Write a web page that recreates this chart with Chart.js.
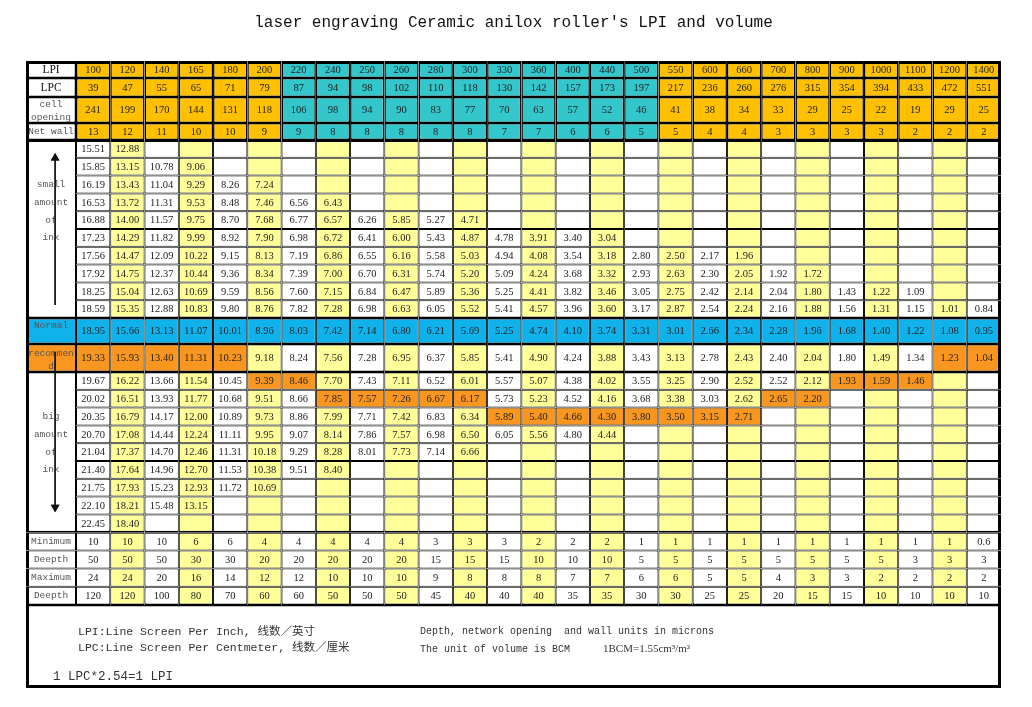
<!DOCTYPE html>
<html>
<head>
<meta charset="utf-8">
<title>laser engraving Ceramic anilox roller's LPI and volume</title>
<script src="https://cdn.jsdelivr.net/npm/chart.js@4.4.1/dist/chart.umd.min.js"></script>
<style>
  html, body { margin: 0; padding: 0; background: #fff; }
  canvas { display: block; }
</style>
</head>
<body>
<canvas id="aniloxChart" width="1032" height="707"></canvas>
<script>
// header rows, one value per LPI column
var lpi = [100, 120, 140, 165, 180, 200, 220, 240, 250, 260, 280, 300, 330, 360, 400, 440, 500, 550, 600, 660, 700, 800, 900, 1000, 1100, 1200, 1400];
var lpc = [39, 47, 55, 65, 71, 79, 87, 94, 98, 102, 110, 118, 130, 142, 157, 173, 197, 217, 236, 260, 276, 315, 354, 394, 433, 472, 551];
var cellOpening = [241, 199, 170, 144, 131, 118, 106, 98, 94, 90, 83, 77, 70, 63, 57, 52, 46, 41, 38, 34, 33, 29, 25, 22, 19, 29, 25];
var netWall = [13, 12, 11, 10, 10, 9, 9, 8, 8, 8, 8, 8, 7, 7, 6, 6, 5, 5, 4, 4, 3, 3, 3, 3, 2, 2, 2];

// volume (BCM) rows, small amount of ink
var smallInk = [
    [15.51, 12.88],
    [15.85, 13.15, 10.78, 9.06],
    [16.19, 13.43, 11.04, 9.29, 8.26, 7.24],
    [16.53, 13.72, 11.31, 9.53, 8.48, 7.46, 6.56, 6.43],
    [16.88, 14.00, 11.57, 9.75, 8.70, 7.68, 6.77, 6.57, 6.26, 5.85, 5.27, 4.71],
    [17.23, 14.29, 11.82, 9.99, 8.92, 7.90, 6.98, 6.72, 6.41, 6.00, 5.43, 4.87, 4.78, 3.91, 3.40, 3.04],
    [17.56, 14.47, 12.09, 10.22, 9.15, 8.13, 7.19, 6.86, 6.55, 6.16, 5.58, 5.03, 4.94, 4.08, 3.54, 3.18, 2.80, 2.50, 2.17, 1.96],
    [17.92, 14.75, 12.37, 10.44, 9.36, 8.34, 7.39, 7.00, 6.70, 6.31, 5.74, 5.20, 5.09, 4.24, 3.68, 3.32, 2.93, 2.63, 2.30, 2.05, 1.92, 1.72],
    [18.25, 15.04, 12.63, 10.69, 9.59, 8.56, 7.60, 7.15, 6.84, 6.47, 5.89, 5.36, 5.25, 4.41, 3.82, 3.46, 3.05, 2.75, 2.42, 2.14, 2.04, 1.80, 1.43, 1.22, 1.09],
    [18.59, 15.35, 12.88, 10.83, 9.80, 8.76, 7.82, 7.28, 6.98, 6.63, 6.05, 5.52, 5.41, 4.57, 3.96, 3.60, 3.17, 2.87, 2.54, 2.24, 2.16, 1.88, 1.56, 1.31, 1.15, 1.01, 0.84]
];
var normalInk = [18.95, 15.66, 13.13, 11.07, 10.01, 8.96, 8.03, 7.42, 7.14, 6.80, 6.21, 5.69, 5.25, 4.74, 4.10, 3.74, 3.31, 3.01, 2.66, 2.34, 2.28, 1.96, 1.68, 1.40, 1.22, 1.08, 0.95];
var recommendInk = [19.33, 15.93, 13.40, 11.31, 10.23, 9.18, 8.24, 7.56, 7.28, 6.95, 6.37, 5.85, 5.41, 4.90, 4.24, 3.88, 3.43, 3.13, 2.78, 2.43, 2.40, 2.04, 1.80, 1.49, 1.34, 1.23, 1.04];
// big amount of ink
var bigInk = [
    [19.67, 16.22, 13.66, 11.54, 10.45, 9.39, 8.46, 7.70, 7.43, 7.11, 6.52, 6.01, 5.57, 5.07, 4.38, 4.02, 3.55, 3.25, 2.90, 2.52, 2.52, 2.12, 1.93, 1.59, 1.46],
    [20.02, 16.51, 13.93, 11.77, 10.68, 9.51, 8.66, 7.85, 7.57, 7.26, 6.67, 6.17, 5.73, 5.23, 4.52, 4.16, 3.68, 3.38, 3.03, 2.62, 2.65, 2.20],
    [20.35, 16.79, 14.17, 12.00, 10.89, 9.73, 8.86, 7.99, 7.71, 7.42, 6.83, 6.34, 5.89, 5.40, 4.66, 4.30, 3.80, 3.50, 3.15, 2.71],
    [20.70, 17.08, 14.44, 12.24, 11.11, 9.95, 9.07, 8.14, 7.86, 7.57, 6.98, 6.50, 6.05, 5.56, 4.80, 4.44],
    [21.04, 17.37, 14.70, 12.46, 11.31, 10.18, 9.29, 8.28, 8.01, 7.73, 7.14, 6.66],
    [21.40, 17.64, 14.96, 12.70, 11.53, 10.38, 9.51, 8.40],
    [21.75, 17.93, 15.23, 12.93, 11.72, 10.69],
    [22.10, 18.21, 15.48, 13.15],
    [22.45, 18.40]
];

// depth rows (microns)
var minimumOpen = [10, 10, 10, 6, 6, 4, 4, 4, 4, 4, 3, 3, 3, 2, 2, 2, 1, 1, 1, 1, 1, 1, 1, 1, 1, 1, 0.6];
var minimumDepth = [50, 50, 50, 30, 30, 20, 20, 20, 20, 20, 15, 15, 15, 10, 10, 10, 5, 5, 5, 5, 5, 5, 5, 5, 3, 3, 3];
var maximumOpen = [24, 24, 20, 16, 14, 12, 12, 10, 10, 10, 9, 8, 8, 8, 7, 7, 6, 6, 5, 5, 4, 3, 3, 2, 2, 2, 2];
var maximumDepth = [120, 120, 100, 80, 70, 60, 60, 50, 50, 50, 45, 40, 40, 40, 35, 35, 30, 30, 25, 25, 20, 15, 15, 10, 10, 10, 10];

// orange (recommended) cells, by column index
var recommendHot = [0, 1, 2, 3, 4, 25, 26];
var bigHot = [[5, 6, 22, 23, 24], [7, 8, 9, 10, 11, 20, 21], [12, 13, 14, 15, 16, 17, 18, 19]];

var orange = '#FFC000';
var teal = '#33C6CB';
var paleYellow = '#FFFF99';
var blue = '#10B2EC';
var hotOrange = '#F8961F';
var NUM_FONT = '10.5px "Liberation Serif", "Times New Roman", serif';
var MONO = '9.5px "Liberation Mono", monospace';
var SERIF_LABEL = '11.5px "Liberation Serif", serif';

var LABEL_W = 1.46;              // label column, in LPI-column units
var XMAX = LABEL_W + lpi.length;

// table rows top to bottom (heights in px)
var rows = [];
var yPos = 0;
function addRow(kind, values, h, bt, bb, hot, decimals) {
    rows.push({ kind: kind, values: values, y0: yPos, y1: yPos + h, bt: bt, bb: bb, hot: hot || [], decimals: decimals });
    yPos += h;
    return rows.length - 1;
}
var rLpi = addRow('head', lpi, 17, 3, 1.5);
var rLpc = addRow('head', lpc, 19, 1.5, 1.5);
var rCell = addRow('head', cellOpening, 26, 1.5, 1.5);
var rWall = addRow('head', netWall, 17, 1.5, 1.5);
var rSmall = smallInk.map(function (v, k) {
    return addRow('body', v, 17.8, k === 0 ? 2 : 1, k === smallInk.length - 1 ? 1.5 : 1, [], 2);
});
var rNormal = addRow('normal', normalInk, 26, 1.5, 1.5, [], 2);
var rRecommend = addRow('body', recommendInk, 28, 1.5, 1.5, recommendHot, 2);
var rBig = bigInk.map(function (v, k) {
    return addRow('body', v, 17.8, k === 0 ? 1.5 : 1, k === bigInk.length - 1 ? 1.5 : 1, bigHot[k], 2);
});
var rMin = addRow('body', minimumOpen, 18.2, 1.5, 1);
var rMinD = addRow('body', minimumDepth, 18.2, 1, 1);
var rMax = addRow('body', maximumOpen, 18.2, 1, 1);
var rMaxD = addRow('body', maximumDepth, 18.2, 1, 1.5);
var tableBottom = yPos;
var footerBottom = tableBottom + 83;

function mid(r) { return (rows[r].y0 + rows[r].y1) / 2; }
function side(r) { return rows[r].kind === 'head' ? 1.5 : 1; }

function cellColor(r, i) {
    if (r.kind === 'head') return (lpi[i] >= 220 && lpi[i] <= 500) ? teal : orange;
    if (r.kind === 'normal') return blue;
    if (r.hot.indexOf(i) >= 0) return hotOrange;
    return i % 2 === 1 ? paleYellow : '#FFFFFF';
}

var barCommon = {
    type: 'bar',
    borderColor: '#000',
    borderSkipped: false,
    inflateAmount: 0,
    grouped: false,
    categoryPercentage: 1
};

var datasets = [];

// arrows in the label column (drawn on top)
datasets.push({
    type: 'line', xAxisID: 'xl', order: -1,
    data: [{ x: 0.85, y: mid(rSmall[9]) - 4 }, { x: 0.85, y: rows[rSmall[0]].y0 + 18 }],
    borderColor: '#111', borderWidth: 1.3,
    pointStyle: 'triangle', pointRadius: [0, 5], pointBackgroundColor: '#111', pointBorderColor: '#111', pointBorderWidth: 0
});
datasets.push({
    type: 'line', xAxisID: 'xl', order: -1,
    data: [{ x: 0.85, y: rows[rRecommend].y0 + 8 }, { x: 0.85, y: rows[rBig[8]].y1 - 25 }],
    borderColor: '#111', borderWidth: 1.3,
    pointStyle: 'triangle', pointRotation: 180, pointRadius: [0, 5], pointBackgroundColor: '#111', pointBorderColor: '#111', pointBorderWidth: 0
});

// value cells, one dataset per table row
rows.forEach(function (r, ri) {
    datasets.push(Object.assign({}, barCommon, {
        xAxisID: 'x',
        barPercentage: 1,
        data: lpi.map(function (_, i) { return { x: LABEL_W + i + 0.5, y: [r.y0, r.y1] }; }),
        backgroundColor: lpi.map(function (_, i) { return cellColor(r, i); }),
        borderWidth: function (c) {
            var s = side(ri);
            return { top: r.bt, bottom: r.bb, left: s, right: c.dataIndex === lpi.length - 1 ? 3 : s };
        },
        cellText: lpi.map(function (_, i) {
            var v = r.values[i];
            if (v === undefined) return '';
            return r.decimals ? v.toFixed(r.decimals) : String(v);
        })
    }));
});

// label column
function ln(text, y, font) { return { text: text, y: y, font: font || MONO, color: '#555' }; }
var labelCells = [
    { r0: rLpi, r1: rLpi, lines: [{ text: 'LPI', y: mid(rLpi), font: SERIF_LABEL, color: '#111' }] },
    { r0: rLpc, r1: rLpc, lines: [{ text: 'LPC', y: mid(rLpc), font: SERIF_LABEL, color: '#111' }] },
    { r0: rCell, r1: rCell, lines: [ln('cell', rows[rCell].y0 + 7), ln('opening', rows[rCell].y0 + 20)] },
    { r0: rWall, r1: rWall, lines: [ln('Net wall', mid(rWall))] },
    { r0: rSmall[0], r1: rSmall[9], lines: [ln('small', mid(rSmall[2])), ln('amount', mid(rSmall[3])), ln('of', mid(rSmall[4])), ln('ink', mid(rSmall[5]))] },
    { r0: rNormal, r1: rNormal, bg: blue, lines: [ln('Normal', rows[rNormal].y0 + 7)] },
    { r0: rRecommend, r1: rRecommend, bg: hotOrange, lines: [ln('recommen', rows[rRecommend].y0 + 9), ln('d', rows[rRecommend].y0 + 22)] },
    { r0: rBig[0], r1: rBig[8], lines: [ln('big', mid(rBig[2])), ln('amount', mid(rBig[3])), ln('of', mid(rBig[4])), ln('ink', mid(rBig[5]))] },
    { r0: rMin, r1: rMin, lines: [ln('Minimum', mid(rMin))] },
    { r0: rMinD, r1: rMinD, lines: [ln('Deepth', mid(rMinD))] },
    { r0: rMax, r1: rMax, lines: [ln('Maximum', mid(rMax))] },
    { r0: rMaxD, r1: rMaxD, lines: [ln('Deepth', mid(rMaxD))] }
];
datasets.push(Object.assign({}, barCommon, {
    xAxisID: 'xl',
    barPercentage: LABEL_W / XMAX,
    data: labelCells.map(function (c) { return { x: LABEL_W / 2, y: [rows[c.r0].y0, rows[c.r1].y1] }; }),
    backgroundColor: labelCells.map(function (c) { return c.bg || '#FFFFFF'; }),
    borderWidth: function (c) {
        var cell = labelCells[c.dataIndex];
        return { top: rows[cell.r0].bt, bottom: rows[cell.r1].bb, left: 3, right: side(cell.r0) };
    },
    cellLines: labelCells.map(function (c) { return c.lines; })
}));

// notes box under the table
var footerFont = '11.5px "Liberation Mono", "Noto Sans CJK SC", monospace';
var footerSmall = '10px "Liberation Mono", monospace';
datasets.push(Object.assign({}, barCommon, {
    xAxisID: 'xf',
    barPercentage: 1,
    data: [{ x: XMAX / 2, y: [tableBottom, footerBottom] }],
    backgroundColor: '#FFFFFF',
    borderWidth: { top: 1.5, left: 3, right: 3, bottom: 3 },
    footerLines: [
        { text: 'LPI:Line Screen Per Inch, 线数／英寸', dx: 52, dy: 27, font: footerFont },
        { text: 'LPC:Line Screen Per Centmeter, 线数／厘米', dx: 52, dy: 43, font: footerFont },
        { text: 'Depth, network opening  and wall units in microns', dx: 394, dy: 26, font: footerSmall },
        { text: 'The unit of volume is BCM', dx: 394, dy: 44, font: footerSmall },
        { text: '1BCM=1.55cm³/m²', dx: 577, dy: 44, font: '11px "Liberation Serif", serif' },
        { text: '1 LPC*2.54=1 LPI', dx: 27, dy: 72, font: '12.5px "Liberation Mono", monospace' }
    ]
}));

// writes the numbers and labels into the cells
var tableText = {
    id: 'tableText',
    afterDatasetsDraw: function (chart) {
        var ctx = chart.ctx;
        var yScale = chart.scales.y;
        ctx.save();
        ctx.textBaseline = 'middle';
        chart.data.datasets.forEach(function (ds, di) {
            var meta = chart.getDatasetMeta(di);
            if (ds.cellText) {
                ctx.textAlign = 'center';
                ctx.font = NUM_FONT;
                ctx.fillStyle = '#222';
                meta.data.forEach(function (el, i) {
                    if (ds.cellText[i]) ctx.fillText(ds.cellText[i], el.x, (el.y + el.base) / 2 + 0.5);
                });
            }
            if (ds.cellLines) {
                ctx.textAlign = 'center';
                meta.data.forEach(function (el, i) {
                    ds.cellLines[i].forEach(function (l) {
                        ctx.font = l.font;
                        ctx.fillStyle = l.color;
                        ctx.fillText(l.text, el.x, yScale.getPixelForValue(l.y));
                    });
                });
            }
            if (ds.footerLines) {
                var el = meta.data[0];
                var left = el.x - el.width / 2;
                var top = Math.min(el.y, el.base);
                ctx.textAlign = 'left';
                ctx.fillStyle = '#333';
                ds.footerLines.forEach(function (l) {
                    ctx.font = l.font;
                    ctx.fillText(l.text, left + l.dx, top + l.dy);
                });
            }
        });
        // arrows over the label text, as in the sheet
        chart.getSortedVisibleDatasetMetas().forEach(function (m) {
            if (m.type === 'line') m.controller.draw();
        });
        ctx.restore();
    }
};

function hiddenX() {
    return {
        type: 'linear', axis: 'x', position: 'bottom', display: false,
        min: 0, max: XMAX, offset: false,
        afterBuildTicks: function (s) { s.ticks = []; }
    };
}

var aniloxCtx = document.getElementById('aniloxChart').getContext('2d');
var aniloxChart = new Chart(aniloxCtx, {
    type: 'bar',
    data: { datasets: datasets },
    options: {
        responsive: false,
        animation: false,
        devicePixelRatio: 1,
        events: [],
        layout: { padding: { left: 26, right: 31, top: 0, bottom: 19 } },
        plugins: {
            legend: { display: false },
            tooltip: { enabled: false },
            title: {
                display: true,
                text: "laser engraving Ceramic anilox roller's LPI and volume",
                color: '#111',
                font: { family: '"Liberation Mono", monospace', size: 16, weight: 'normal' },
                padding: { top: 13, bottom: 28.8 }
            }
        },
        scales: {
            x: hiddenX(),
            xl: hiddenX(),
            xf: hiddenX(),
            y: { type: 'linear', display: false, reverse: true, min: 0, max: footerBottom }
        }
    },
    plugins: [tableText]
});
</script>
</body>
</html>
